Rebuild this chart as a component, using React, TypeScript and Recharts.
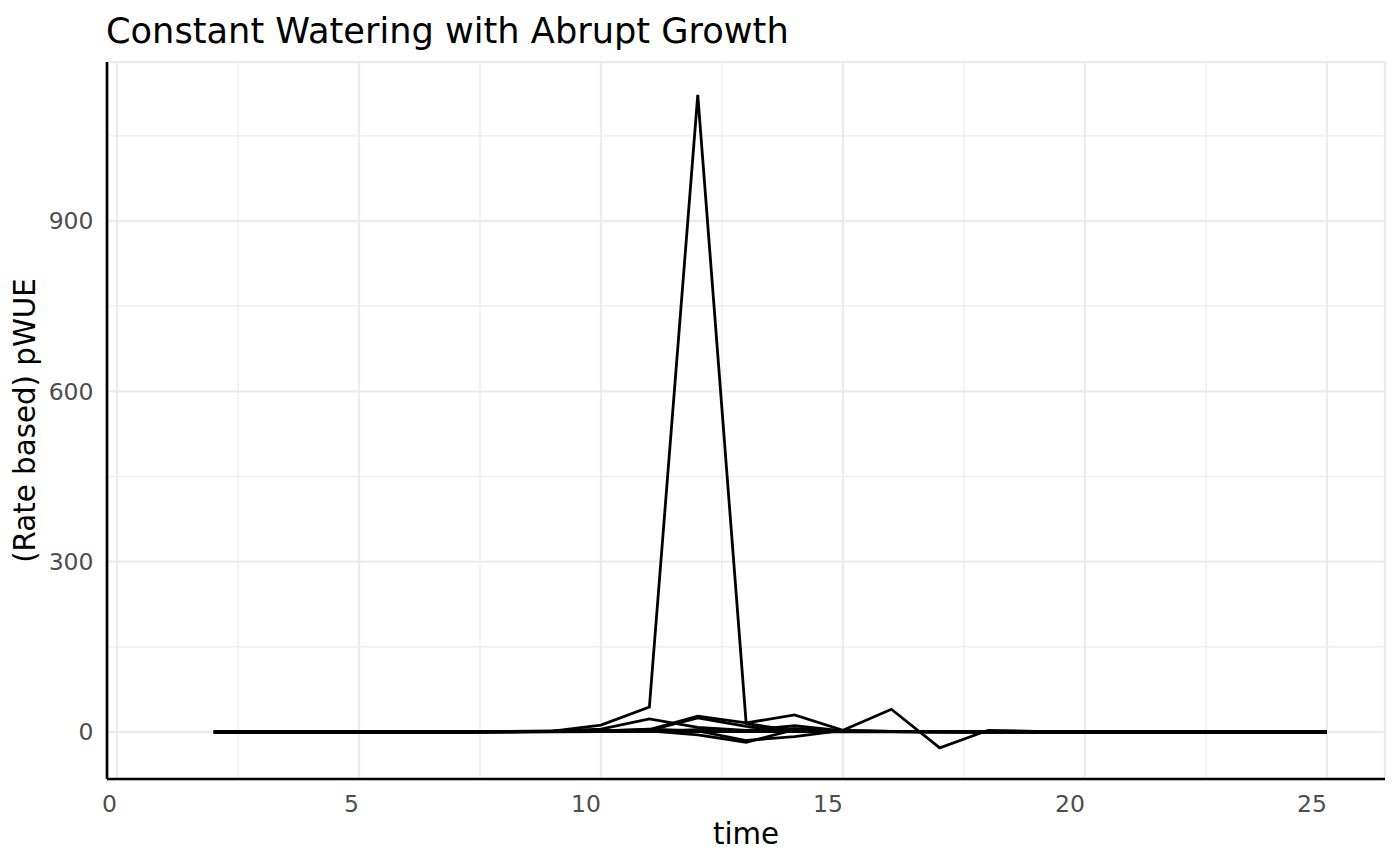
import React from "react";
import { LineChart, Line, XAxis, YAxis, CartesianGrid } from "recharts";

// time points (days) and per-plant pWUE series
const TIME = [2, 3, 4, 5, 6, 7, 8, 9, 10, 11, 12, 13, 14, 15, 16, 17, 18, 19, 20, 21, 22, 23, 24, 25];

const PLANT_1 = [0, 0, 0, 0, 0, 0, 0.5, 1.5, 12, 44, 1122, 15, 2, 1, 0.5, 0.3, 0.2, 0.1, 0, 0, 0, 0, 0, 0];
const PLANT_2 = [0, 0, 0, 0, 0, 0.2, 0.8, 2, 5, 23, 8, 3, 11, 2, 1, 0.5, 0.3, 0.2, 0.1, 0, 0, 0, 0, 0];
const PLANT_3 = [0, 0, 0, 0, 0, 0, 0.3, 1, 2, 4, 28, 16, 30, 3, 40, -28, 3, 1, 0.5, 0.2, 0.1, 0, 0, 0];
const PLANT_4 = [0, 0, 0, 0, 0, 0.1, 0.5, 1.2, 3, 3, 25, 10, 2, 1, 0.5, 0.2, 0, 0, 0, 0, 0, 0, 0, 0];
const PLANT_5 = [0, 0, 0, 0, 0, 0, 0.2, 0.8, 1.5, 2, -5, -18, 4, 2, 1, 0.5, 0.2, 0, 0, 0, 0, 0, 0, 0];
const PLANT_6 = [0, 0, 0, 0, 0, 0, 0.3, 1, 2, 5, 2, -15, -8, 3, 1, 0.3, 0, 0, 0, 0, 0, 0, 0, 0];
const PLANT_7 = [0, 0, 0, 0, 0, 0, 0.2, 0.5, 1, 1, 4, 2, 6, 2, 0.5, 0.2, 0, 0, 0, 0, 0, 0, 0, 0];
const PLANT_8 = [0, 0, 0, 0, 0, 0, 0.1, 0.3, 0.5, 1, 0.5, 0.5, 0.5, 0.3, 0.2, 0, 0, 0, 0, 0, 0, 0, 0, 0];

const SERIES = [PLANT_1, PLANT_2, PLANT_3, PLANT_4, PLANT_5, PLANT_6, PLANT_7, PLANT_8];

const X_TICKS = [0, 5, 10, 15, 20, 25];
const X_MINOR = [2.5, 7.5, 12.5, 17.5, 22.5];
const Y_TICKS = [0, 300, 600, 900];
const Y_MINOR = [150, 450, 750, 1050];

const X_DOMAIN = [-0.207, 26.2];
const Y_DOMAIN = [-82.8, 1180];

const FONT = "'DejaVu Sans', sans-serif";

const rows = TIME.map((t, i) => {
  const row: Record<string, number> = { time: t };
  SERIES.forEach((s, k) => {
    row[`p${k + 1}`] = s[i];
  });
  return row;
});

function scaleOr(axis: any, v: number, fallback: number) {
  if (axis && typeof axis.scale === "function") {
    const r = axis.scale(v);
    if (Number.isFinite(r)) return r;
  }
  return fallback;
}

const minorX = ({ xAxis, offset }: any) =>
  X_MINOR.map((v) =>
    scaleOr(xAxis, v, offset.left + ((v - X_DOMAIN[0]) / (X_DOMAIN[1] - X_DOMAIN[0])) * offset.width)
  );

const minorY = ({ yAxis, offset }: any) =>
  Y_MINOR.map((v) =>
    scaleOr(yAxis, v, offset.top + ((Y_DOMAIN[1] - v) / (Y_DOMAIN[1] - Y_DOMAIN[0])) * offset.height)
  );

const XTick = ({ x, y, payload }: any) => (
  <text x={x} y={y} dy="0.71em" textAnchor="end" fill="#4D4D4D" fontSize={23.5} fontFamily={FONT}>
    {payload.value}
  </text>
);

const YTick = ({ x, y, payload }: any) => (
  <text x={x} y={y} dy="0.355em" textAnchor="end" fill="#4D4D4D" fontSize={23.5} fontFamily={FONT}>
    {payload.value}
  </text>
);

export default function App() {
  return (
    <div style={{ position: "absolute", left: 0, top: 0, width: 1400, height: 865, background: "#fff" }}>
      <svg width={1400} height={60} style={{ position: "absolute", left: 0, top: 0 }}>
        <text x={106} y={42.5} fontSize={35.2} fontFamily={FONT} fill="#000">
          Constant Watering with Abrupt Growth
        </text>
      </svg>
      <div style={{ position: "absolute", left: 0, top: 0 }}>
        <LineChart width={1400} height={865} data={rows} margin={{ top: 62, right: 15, bottom: 6, left: 7 }}>
          <CartesianGrid
            stroke="#EBEBEB"
            strokeWidth={1.2}
            verticalCoordinatesGenerator={minorX}
            horizontalCoordinatesGenerator={minorY}
          />
          <CartesianGrid stroke="#EBEBEB" strokeWidth={2.3} />
          <XAxis
            type="number"
            dataKey="time"
            domain={X_DOMAIN}
            ticks={X_TICKS}
            interval={0}
            allowDataOverflow
            height={80}
            tickLine={false}
            tickSize={0}
            tickMargin={16}
            tick={<XTick />}
            axisLine={{ stroke: "#000", strokeWidth: 2.7 }}
            label={{
              value: "time",
              position: "insideBottom",
              offset: 15,
              fill: "#000",
              fontSize: 29.3,
              fontFamily: FONT,
            }}
          />
          <YAxis
            type="number"
            domain={Y_DOMAIN}
            ticks={Y_TICKS}
            interval={0}
            allowDataOverflow
            width={100}
            tickLine={false}
            tickSize={0}
            tickMargin={13.5}
            tick={<YTick />}
            axisLine={{ stroke: "#000", strokeWidth: 2.7 }}
            label={{
              value: "(Rate based) pWUE",
              angle: -90,
              position: "insideLeft",
              offset: 18,
              fill: "#000",
              fontSize: 29.3,
              fontFamily: FONT,
              style: { textAnchor: "middle" },
            }}
          />
          {SERIES.map((_, k) => (
            <Line
              key={k}
              type="linear"
              dataKey={`p${k + 1}`}
              stroke="#000"
              strokeWidth={2.8}
              dot={false}
              activeDot={false}
              isAnimationActive={false}
            />
          ))}
        </LineChart>
      </div>
    </div>
  );
}
